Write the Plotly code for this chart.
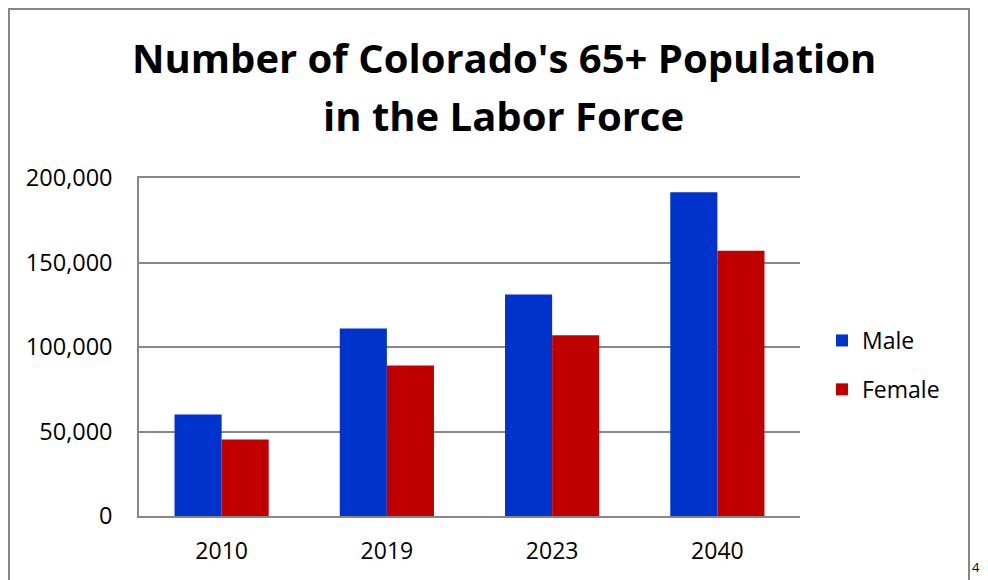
import plotly.graph_objects as go

years = ["2010", "2019", "2023", "2040"]
male = [60000, 111000, 131000, 191500]
female = [45300, 89000, 107000, 157000]
series_names = ["Male", "Female"]
series_colors = ["#0033CC", "#C00000"]
y_ticks = [0, 50000, 100000, 150000, 200000]
y_tick_labels = ["0", "50,000", "100,000", "150,000", "200,000"]
title_lines = ["Number of Colorado's 65+ Population", "in the Labor Force"]
page_number = "45"

OFF = 8  # page body margin
W, H = 988, 580
L, T = 139 - OFF, 178 - OFF
pw, ph = 661, 338
R, B = W - L - pw, H - T - ph

def px_x(p):
    return (p - OFF - L) / pw

def px_y(p):
    return (T + ph - (p - OFF)) / ph

FONT = "Open Sans"

fig = go.Figure()
for i, (name, vals) in enumerate(zip(series_names, [male, female])):
    fig.add_trace(go.Bar(
        x=years, y=vals, name=name, legendgroup=name,
        marker=dict(color=series_colors[i], line=dict(width=0)),
    ))

fig.update_layout(
    width=W, height=H,
    margin=dict(l=L, r=R, t=T, b=B, autoexpand=False),
    paper_bgcolor="white", plot_bgcolor="white",
    barmode="group", bargap=0.43, bargroupgap=0,
    font=dict(family=FONT, color="black", size=23),
    showlegend=True,
    legend=dict(
        x=px_x(822), y=px_y(319), xanchor="left", yanchor="top",
        font=dict(size=23, family=FONT), tracegroupgap=16,
        bgcolor="rgba(0,0,0,0)", itemsizing="constant",
    ),
    xaxis=dict(
        showline=True, linecolor="#878787", linewidth=1.5, mirror=True,
        ticks="", showgrid=False, tickfont=dict(size=23),
        ticklabelstandoff=14,
    ),
    yaxis=dict(
        range=[0, 200000], tickvals=y_ticks, ticktext=y_tick_labels,
        showline=True, linecolor="#878787", linewidth=1.5,
        showgrid=True, gridcolor="#878787", gridwidth=1.5,
        zeroline=False, ticks="", tickfont=dict(size=23.5),
        ticklabelstandoff=20,
    ),
)

# outer chart border
fig.add_shape(type="rect", xref="paper", yref="paper",
              x0=px_x(9), x1=px_x(969), y0=px_y(600), y1=px_y(9),
              line=dict(color="#878787", width=2), fillcolor="rgba(0,0,0,0)", layer="below")

# title lines
fig.add_annotation(text="<b>" + title_lines[0] + "</b>", xref="paper", yref="paper",
                   x=px_x(504), y=px_y(57), xanchor="center", yanchor="middle",
                   showarrow=False, font=dict(size=40, family=FONT, color="black"))
fig.add_annotation(text="<b>" + title_lines[1] + "</b>", xref="paper", yref="paper",
                   x=px_x(504), y=px_y(116), xanchor="center", yanchor="middle",
                   showarrow=False, font=dict(size=40, family=FONT, color="black"))

# page number
fig.add_annotation(text=page_number, xref="paper", yref="paper",
                   x=px_x(970), y=px_y(567), xanchor="left", yanchor="middle",
                   showarrow=False, font=dict(size=13, family=FONT, color="black"))

fig.write_html("out.html")
